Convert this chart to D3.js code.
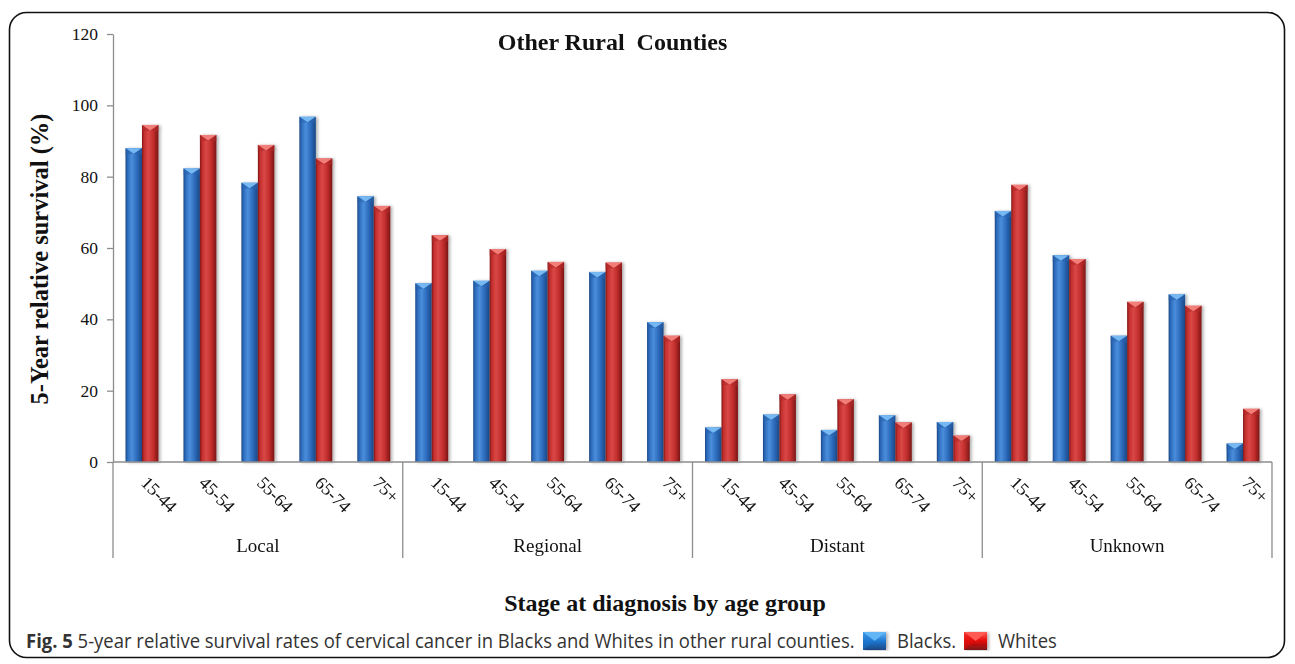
<!DOCTYPE html>
<html>
<head>
<meta charset="utf-8">
<script src="https://cdn.jsdelivr.net/npm/d3@7/dist/d3.min.js"></script>
<style>
  html, body { margin: 0; padding: 0; background: #fff; }
  svg { display: block; }
</style>
</head>
<body>
<svg id="chart" width="1295" height="664"></svg>
<script>
// Stage at diagnosis, age groups within each stage, and the two series
const stages = ["Local", "Regional", "Distant", "Unknown"];
const ageGroups = ["15-44", "45-54", "55-64", "65-74", "75+"];
const seriesNames = ["Blacks", "Whites"];

// 5-year relative survival (%), one value per age group, stages in order
const blacksLocal    = [88.0, 82.3, 78.3, 96.8, 74.5];
const blacksRegional = [50.1, 50.8, 53.6, 53.3, 39.2];
const blacksDistant  = [9.7, 13.3, 9.0, 13.1, 11.2];
const blacksUnknown  = [70.4, 58.0, 35.4, 47.0, 5.2];

const whitesLocal    = [94.5, 91.7, 88.9, 85.1, 71.8];
const whitesRegional = [63.6, 59.7, 56.1, 55.9, 35.4];
const whitesDistant  = [23.2, 19.0, 17.6, 11.1, 7.4];
const whitesUnknown  = [77.7, 56.9, 44.9, 43.8, 14.9];

const yTicks = [0, 20, 40, 60, 80, 100, 120];

const titleText = "Other Rural  Counties";
const yTitle = "5-Year relative survival (%)";
const xTitle = "Stage at diagnosis by age group";
const captionBold = "Fig. 5";
const captionText = " 5-year relative survival rates of cervical cancer in Blacks and Whites in other rural counties.";
const legendLabels = ["Blacks.", "Whites"];

// Rows for drawing
const blacksByStage = [blacksLocal, blacksRegional, blacksDistant, blacksUnknown];
const whitesByStage = [whitesLocal, whitesRegional, whitesDistant, whitesUnknown];
const rows = [];
stages.forEach((s, i) => {
  ageGroups.forEach((a, j) => {
    rows.push({ stage: s, age: a, series: "Blacks", value: blacksByStage[i][j] });
    rows.push({ stage: s, age: a, series: "Whites", value: whitesByStage[i][j] });
  });
});

const serif = "'Liberation Serif', 'Times New Roman', Times, serif";
const sans = "'Open Sans', 'Noto Sans', sans-serif";
const axisGrey = "#8d8d8d";

const svg = d3.select("#chart");
const defs = svg.append("defs");

// Frame around the figure
svg.append("rect")
  .attr("x", 9.5).attr("y", 12.5)
  .attr("width", 1275).attr("height", 645)
  .attr("rx", 17).attr("ry", 17)
  .attr("fill", "none").attr("stroke", "#111").attr("stroke-width", 1.6);

// Scales
const plot = { left: 113, right: 1272, top: 34, bottom: 462 };
const y = d3.scaleLinear().domain([0, 120]).range([plot.bottom, plot.top]);
const x0 = d3.scaleBand().domain(stages).range([plot.left, plot.right]);
const x1 = d3.scaleBand().domain(ageGroups).range([0, x0.bandwidth()]);
const x2 = d3.scaleBand().domain(seriesNames).range([0, x1.bandwidth()])
  .paddingInner(0).paddingOuter(0.76);

// Bar shading: cylinder-like horizontal gradients
const palette = {
  Blacks: { dark: "#1b4682", mid: "#2c6abb", light: "#4a8edb", cap: "#74b8f2", capEdge: "#2a63ad", icon: "#1f78d1", iconLight: "#62b6f5" },
  Whites: { dark: "#7a1616", mid: "#c22d2c", light: "#d94846", cap: "#f27e7a", capEdge: "#b02a2a", icon: "#e30c0c", iconLight: "#ff5a52" }
};
seriesNames.forEach(s => {
  const c = palette[s];
  const g = defs.append("linearGradient").attr("id", "grad-" + s)
    .attr("x1", "0%").attr("x2", "100%").attr("y1", "0%").attr("y2", "0%");
  [[0, c.dark], [0.12, c.mid], [0.38, c.light], [0.7, c.mid], [1, c.dark]].forEach(([o, col]) =>
    g.append("stop").attr("offset", o).attr("stop-color", col));
  const gi = defs.append("linearGradient").attr("id", "icon-" + s)
    .attr("x1", "0%").attr("x2", "0%").attr("y1", "0%").attr("y2", "100%");
  [[0, c.iconLight], [0.5, c.icon], [1, c.dark]].forEach(([o, col]) =>
    gi.append("stop").attr("offset", o).attr("stop-color", col));
});
const shadow = defs.append("filter").attr("id", "barShadow")
  .attr("x", "-30%").attr("y", "-5%").attr("width", "170%").attr("height", "110%");
shadow.append("feDropShadow").attr("dx", 2).attr("dy", 0.5).attr("stdDeviation", 1.4)
  .attr("flood-color", "#000").attr("flood-opacity", 0.3);

// Y axis
const yAxis = svg.append("g")
  .attr("transform", `translate(${plot.left},0)`)
  .call(d3.axisLeft(y).tickValues(yTicks).tickSize(6).tickSizeOuter(0).tickPadding(9));
yAxis.select(".domain").attr("stroke", axisGrey).attr("stroke-width", 1.3);
yAxis.selectAll(".tick line").attr("stroke", axisGrey).attr("stroke-width", 1.3);
yAxis.selectAll(".tick text")
  .attr("font-family", serif).attr("font-size", 17.5).attr("fill", "#111");

// Bars
const barG = svg.append("g").attr("filter", "url(#barShadow)");
const bars = barG.selectAll("g.bar").data(rows).join("g").attr("class", "bar")
  .attr("transform", d => `translate(${x0(d.stage) + x1(d.age) + x2(d.series)},0)`);
const bw = x2.bandwidth();
bars.append("rect")
  .attr("x", 0).attr("width", bw)
  .attr("y", d => y(d.value)).attr("height", d => y(0) - y(d.value))
  .attr("fill", d => `url(#grad-${d.series})`);
// bevelled cap on top of each bar
bars.append("path")
  .attr("d", d => {
    const t = y(d.value);
    return `M0,${t} L${bw},${t} L${bw / 2},${t + 5.5} Z`;
  })
  .attr("fill", d => palette[d.series].cap);
bars.append("path")
  .attr("d", d => {
    const t = y(d.value);
    return `M0,${t} L${bw / 2},${t + 5.5} L0,${t + 6.5} Z M${bw},${t} L${bw / 2},${t + 5.5} L${bw},${t + 6.5} Z`;
  })
  .attr("fill", d => palette[d.series].capEdge).attr("opacity", 0.55);

// X axis: baseline plus stage separators running under the labels
const sepBottom = 558;
const xAxis = svg.append("g");
xAxis.append("line")
  .attr("x1", plot.left).attr("x2", x0.range()[1])
  .attr("y1", y(0)).attr("y2", y(0))
  .attr("stroke", axisGrey).attr("stroke-width", 1.3);
const edges = stages.map(s => x0(s)).concat([x0.range()[1]]);
xAxis.selectAll("line.sep").data(edges).join("line").attr("class", "sep")
  .attr("x1", d => d).attr("x2", d => d)
  .attr("y1", y(0)).attr("y2", sepBottom)
  .attr("stroke", axisGrey).attr("stroke-width", 1.3);

// Age-group labels, slanted
const ageLabels = [];
stages.forEach(s => ageGroups.forEach(a => ageLabels.push({ stage: s, age: a })));
xAxis.selectAll("text.age").data(ageLabels).join("text").attr("class", "age")
  .attr("transform", d => `translate(${x0(d.stage) + x1(d.age) + x1.bandwidth() / 2 - 2},484) rotate(45)`)
  .attr("font-family", serif).attr("font-size", 18).attr("fill", "#111")
  .text(d => d.age);

// Stage labels
xAxis.selectAll("text.stage").data(stages).join("text").attr("class", "stage")
  .attr("x", d => x0(d) + x0.bandwidth() / 2).attr("y", 552)
  .attr("text-anchor", "middle")
  .attr("font-family", serif).attr("font-size", 19).attr("fill", "#111")
  .text(d => d);

// Titles
svg.append("text")
  .attr("x", 612.5).attr("y", 50)
  .attr("text-anchor", "middle")
  .style("white-space", "pre")
  .attr("font-family", serif).attr("font-weight", "bold").attr("font-size", 24).attr("fill", "#111")
  .text(titleText);

svg.append("text")
  .attr("transform", "translate(48,259) rotate(-90)")
  .attr("text-anchor", "middle")
  .attr("font-family", serif).attr("font-weight", "bold").attr("font-size", 24.5).attr("fill", "#111")
  .text(yTitle);

svg.append("text")
  .attr("x", 665).attr("y", 611)
  .attr("text-anchor", "middle")
  .attr("font-family", serif).attr("font-weight", "bold").attr("font-size", 24).attr("fill", "#111")
  .text(xTitle);

// Caption with inline legend swatches
const capY = 648;
const capSize = 19.5;
const cap = svg.append("text")
  .attr("font-family", sans).attr("font-size", capSize).attr("fill", "#333");
cap.append("tspan").attr("font-weight", "bold").text(captionBold);
cap.append("tspan").text(captionText);
const capLen = cap.node().getComputedTextLength();
const capStart = 26, capEnd = 855;
const sx = (capEnd - capStart) / capLen;
cap.attr("transform", `translate(${capStart},${capY}) scale(${sx},1)`);

let cursor = capEnd;
seriesNames.forEach((s, i) => {
  const c = palette[s];
  const ix = cursor + 8, iy = 632, iw = 23, ih = 18;
  const icon = svg.append("g").attr("transform", `translate(${ix},${iy})`)
    .attr("filter", "url(#barShadow)");
  icon.append("rect").attr("width", iw).attr("height", ih).attr("fill", `url(#icon-${s})`);
  icon.append("path").attr("d", `M0,0 L${iw},0 L${iw / 2},${ih * 0.5} Z`).attr("fill", c.iconLight);
  icon.append("path").attr("d", `M0,0 L${iw / 2},${ih * 0.5} L0,${ih} Z`).attr("fill", c.icon).attr("opacity", 0.5);
  const t = svg.append("text")
    .attr("font-family", sans).attr("font-size", capSize).attr("fill", "#333")
    .text(legendLabels[i]);
  const tx = ix + iw + 11;
  t.attr("transform", `translate(${tx},${capY}) scale(${sx},1)`);
  cursor = tx + t.node().getComputedTextLength() * sx;
});
</script>
</body>
</html>
